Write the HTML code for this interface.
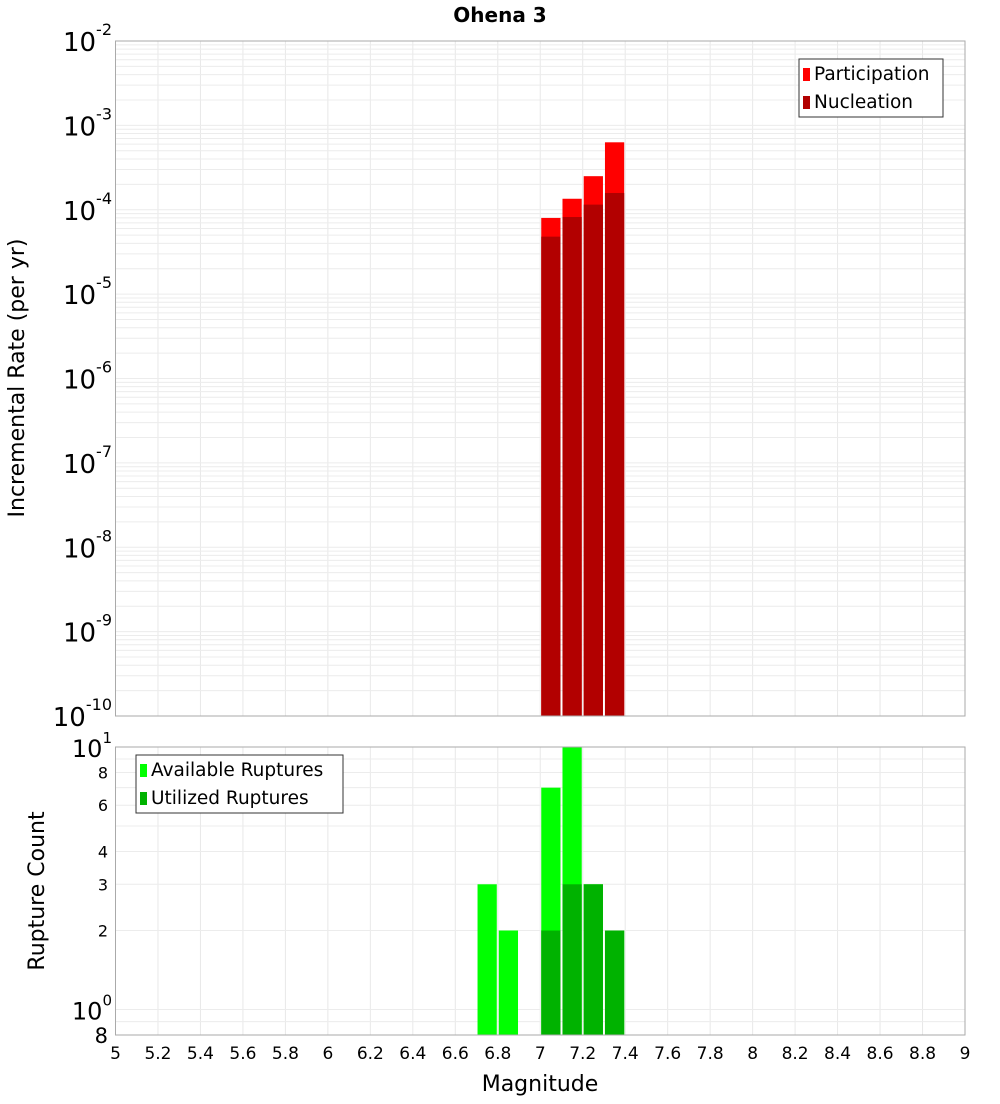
<!DOCTYPE html>
<html><head><meta charset="utf-8"><style>
body{margin:0;background:#fff;font-family:"DejaVu Sans","Liberation Sans",sans-serif}
svg text{font-family:"DejaVu Sans","Liberation Sans",sans-serif}
</style></head><body>
<svg id="c" width="1000" height="1100"></svg>
<script>
const magBins=[6.75,6.85,7.05,7.15,7.25,7.35];
const partRate=[0,0,8.0e-5,1.35e-4,2.5e-4,6.3e-4];
const nuclRate=[0,0,4.8e-5,8.2e-5,1.15e-4,1.58e-4];
const availCount=[3,2,7,10,3,2];
const usedCount=[0,0,2,3,3,2];
const xTicks=[5,5.2,5.4,5.6,5.8,6,6.2,6.4,6.6,6.8,7,7.2,7.4,7.6,7.8,8,8.2,8.4,8.6,8.8,9];
const topExp=[-2,-3,-4,-5,-6,-7,-8,-9,-10];
const botTicks=[2,3,4,6,8];

const NS="http://www.w3.org/2000/svg";
const svg=document.getElementById('c');
function el(t,a,p){const e=document.createElementNS(NS,t);for(const k in a)e.setAttribute(k,a[k]);(p||svg).appendChild(e);return e;}
const X0=115.5,X1=965;
const x=m=>X0+(m-5)/4*(X1-X0);
const T0=41,T1=716;
const yT=v=>T0+(-2-Math.log10(v))/8*(T1-T0);
const B0=747,B1=1035;
const yB=v=>B0+(1-Math.log10(v))/(1-Math.log10(0.8))*(B1-B0);

const g=el('g',{});

for(let m=5;m<=9.001;m+=0.2){
 el('line',{x1:x(m),x2:x(m),y1:T0,y2:T1,stroke:'#e8e8e8'},g);
 el('line',{x1:x(m),x2:x(m),y1:B0,y2:B1,stroke:'#e8e8e8'},g);
}
for(let e=-10;e<-2;e++)for(let k=1;k<10;k++){const y=yT(k*Math.pow(10,e));el('line',{x1:X0,x2:X1,y1:y,y2:y,stroke:'#ececec'},g);}
[0.8,0.9,1,2,3,4,5,6,7,8,9,10].forEach(v=>{const y=yB(v);el('line',{x1:X0,x2:X1,y1:y,y2:y,stroke:'#ececec'},g);});

const bw=0.1*(X1-X0)/4;
magBins.forEach((m,i)=>{
 if(partRate[i]>0){const r=el('rect',{x:x(m)-bw/2+1,width:bw-2,y:yT(partRate[i]),height:T1-yT(partRate[i]),fill:'#ff0000'});
 }
 if(nuclRate[i]>0){const r=el('rect',{x:x(m)-bw/2+1,width:bw-2,y:yT(nuclRate[i]),height:T1-yT(nuclRate[i]),fill:'#b20000'});
 }
});
magBins.forEach((m,i)=>{
 if(availCount[i]>0){const r=el('rect',{x:x(m)-bw/2+1,width:bw-2,y:yB(availCount[i]),height:B1-yB(availCount[i]),fill:'#00ff00'});
 }
 if(usedCount[i]>0){const r=el('rect',{x:x(m)-bw/2+1,width:bw-2,y:yB(usedCount[i]),height:B1-yB(usedCount[i]),fill:'#00b200'});
 }
});
el('rect',{x:X0,y:T0,width:X1-X0,height:T1-T0,fill:'none',stroke:'#aaa'});
el('rect',{x:X0,y:B0,width:X1-X0,height:B1-B0,fill:'none',stroke:'#aaa'});

topExp.forEach(e=>{
 const t=el('text',{x:112,y:yT(Math.pow(10,e))+10,'text-anchor':'end','font-size':26});
 
 t.appendChild(document.createTextNode('10'));
 const s=el('tspan',{dy:-16,'font-size':16},t);s.textContent=String(e);
});
[[10,'1'],[1,'0']].forEach(([v,e])=>{
 const t=el('text',{x:112,y:yB(v)+10,'text-anchor':'end','font-size':24});
 
 t.appendChild(document.createTextNode('10'));
 const s=el('tspan',{dy:-14,'font-size':15},t);s.textContent=e;
});
botTicks.forEach(v=>{const t=el('text',{x:108,y:yB(v)+6,'text-anchor':'end','font-size':16});t.textContent=v;
 });
{const t=el('text',{x:108,y:1043,'text-anchor':'end','font-size':21});t.textContent='8';
 }
xTicks.forEach(m=>{const t=el('text',{x:x(m),y:1059,'text-anchor':'middle','font-size':17});t.textContent=String(m);
 });

function txt(s,a,n){const t=el('text',a);t.textContent=s;return t;}
txt('Ohena 3',{x:500,y:22,'text-anchor':'middle','font-size':20,'font-weight':'bold'},'chart-title');
txt('Magnitude',{x:540,y:1091,'text-anchor':'middle','font-size':22},'x-axis-title');
txt('Incremental Rate (per yr)',{x:24,y:378,'text-anchor':'middle','font-size':22,transform:'rotate(-90 24 378)'},'y-axis-title-top');
txt('Rupture Count',{x:44,y:891,'text-anchor':'middle','font-size':22,transform:'rotate(-90 44 891)'},'y-axis-title-bottom');

function legend(x0,y0,w,items,n){
 const g=el('g',{});
 el('rect',{x:x0,y:y0,width:w,height:58,fill:'#fff',stroke:'#333'},g);
 items.forEach(([c,l],i)=>{
  el('rect',{x:x0+4,y:y0+9+i*28,width:7,height:13,fill:c},g);
  const t=el('text',{x:x0+15,y:y0+21+i*28,'font-size':18.5},g);t.textContent=l;
  
 });
}
legend(799,59,144,[['#ff0000','Participation'],['#b20000','Nucleation']],'legend-top');
legend(136,755,207,[['#00ff00','Available Ruptures'],['#00b200','Utilized Ruptures']],'legend-bottom');
</script>
</body></html>
